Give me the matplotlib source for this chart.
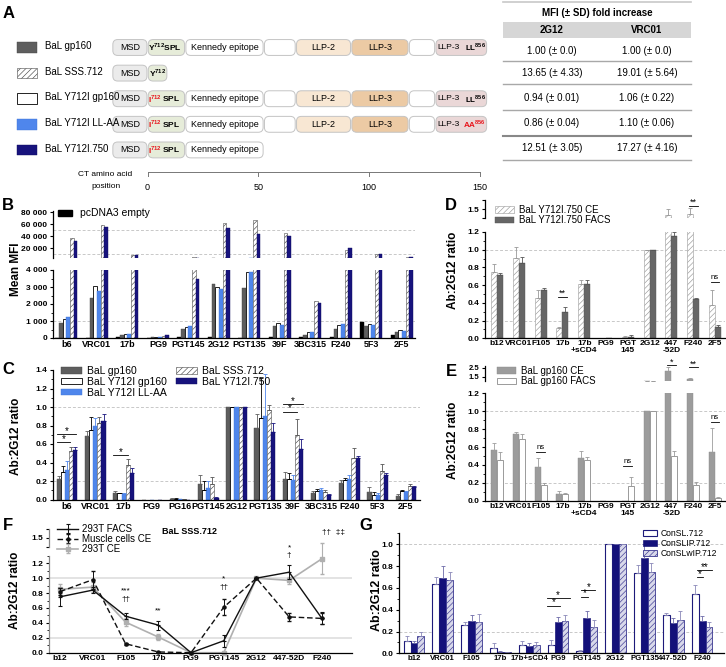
import numpy as np
import matplotlib
matplotlib.use('Agg')
import matplotlib.pyplot as plt
from matplotlib.patches import FancyBboxPatch, Rectangle
from matplotlib.lines import Line2D

plt.rcParams['font.family'] = ['Liberation Sans', 'DejaVu Sans']
plt.rcParams['mathtext.fontset'] = 'custom'
plt.rcParams['mathtext.rm'] = 'Liberation Sans'
plt.rcParams['mathtext.bf'] = 'Liberation Sans:bold'
plt.rcParams['hatch.linewidth'] = 0.45
plt.rcParams['axes.linewidth'] = 0.9

# ---------------- DATA ----------------
# Panel A
constructs = ['BaL gp160', 'BaL SSS.712', 'BaL Y712I gp160', 'BaL Y712I LL-AA', 'BaL Y712I.750']
fold_2g12_mean = [1.00, 13.65, 0.94, 0.86, 12.51]
fold_2g12_sd = [0.0, 4.33, 0.01, 0.04, 3.05]
fold_vrc01_mean = [1.00, 19.01, 1.06, 1.10, 17.27]
fold_vrc01_sd = [0.0, 5.64, 0.22, 0.06, 4.16]
ct_ticks = [0, 50, 100, 150]

# Panel B
b_antibodies = ['b6', 'VRC01', '17b', 'PG9', 'PGT145', '2G12', 'PGT135', '39F', '3BC315', 'F240', '5F3', '2F5']
b_empty = [10, 20, 50, 20, 30, 30, 20, 30, 50, 80, 930, 200]
b_gp160 = [900, 2380, 150, 50, 540, 3200, 2920, 700, 200, 550, 680, 380]
b_y712i = [1120, 3030, 220, 50, 620, 2980, 3900, 900, 350, 780, 820, 450]
b_llaa = [1230, 2750, 220, 60, 690, 2870, 3860, 770, 350, 840, 790, 430]
b_sss = [37000, 58000, 9500, 100, 5500, 62000, 67000, 45000, 2150, 17000, 10000, 5500]
b_750 = [32000, 55000, 9500, 150, 3450, 53000, 44000, 40000, 2050, 21000, 11000, 5500]

# Panel C
c_antibodies = ['b6', 'VRC01', '17b', 'PG9', 'PG16', 'PGT145', '2G12', 'PGT135', '39F', '3BC315', 'F240', '5F3', '2F5']
c_gp160 = [0.22, 0.69, 0.07, 0.0, 0.005, 0.17, 1.0, 0.77, 0.22, 0.07, 0.18, 0.08, 0.04]
c_gp160_err = [0.03, 0.05, 0.02, 0.0, 0.01, 0.09, 0.0, 0.15, 0.08, 0.02, 0.03, 0.05, 0.02]
c_y712i = [0.30, 0.75, 0.065, 0.0, 0.005, 0.10, 1.0, 0.885, 0.22, 0.09, 0.21, 0.05, 0.09]
c_y712i_err = [0.06, 0.14, 0.01, 0.0, 0.01, 0.10, 0.0, 0.43, 0.07, 0.02, 0.02, 0.03, 0.01]
c_llaa = [0.32, 0.80, 0.06, 0.0, 0.005, 0.12, 1.0, 0.90, 0.21, 0.10, 0.22, 0.045, 0.08]
c_llaa_err = [0.10, 0.08, 0.01, 0.0, 0.005, 0.08, 0.0, 0.46, 0.05, 0.02, 0.05, 0.03, 0.01]
c_sss = [0.52, 0.83, 0.37, 0.0, 0.005, 0.165, 1.0, 0.97, 0.70, 0.08, 0.45, 0.31, 0.15]
c_sss_err = [0.05, 0.06, 0.07, 0.0, 0.005, 0.08, 0.0, 0.05, 0.17, 0.02, 0.11, 0.07, 0.02]
c_750 = [0.54, 0.85, 0.29, 0.0, 0.0, 0.015, 1.0, 0.73, 0.55, 0.05, 0.45, 0.26, 0.13]
c_750_err = [0.03, 0.07, 0.05, 0.0, 0.0, 0.01, 0.0, 0.10, 0.10, 0.01, 0.02, 0.03, 0.02]

# Panels D / E
de_antibodies = ['b12', 'VRC01', 'F105', '17b', '17b\n+sCD4', 'PG9', 'PGT\n145', '2G12', '447\n-52D', 'F240', '2F5']
d_ce = [0.75, 0.91, 0.46, 0.12, 0.61, 0.0, 0.01, 1.0, 1.43, 1.45, 0.38]
d_ce_err = [0.09, 0.12, 0.09, 0.01, 0.05, 0.0, 0.02, 0.0, 0.07, 0.06, 0.16]
d_facs = [0.72, 0.85, 0.55, 0.30, 0.61, 0.0, 0.02, 1.0, 1.15, 0.44, 0.13]
d_facs_err = [0.02, 0.07, 0.02, 0.05, 0.05, 0.0, 0.02, 0.0, 0.05, 0.02, 0.02]
e_ce = [0.57, 0.74, 0.38, 0.08, 0.48, 0.0, 0.0, 1.0, 2.1, 1.25, 0.54]
e_ce_err = [0.07, 0.03, 0.10, 0.03, 0.08, 0.0, 0.0, 0.0, 0.45, 0.05, 0.27]
e_facs = [0.45, 0.69, 0.18, 0.07, 0.45, 0.0, 0.16, 1.0, 0.50, 0.18, 0.03]
e_facs_err = [0.09, 0.05, 0.02, 0.02, 0.04, 0.0, 0.10, 0.0, 0.06, 0.03, 0.01]

# Panel F
f_antibodies = ['b12', 'VRC01', 'F105', '17b', 'PG9', 'PGT145', '2G12', '447-52D', 'F240']
f_facs = [0.75, 0.84, 0.49, 0.37, 0.0, 0.16, 1.0, 1.08, 0.46]
f_facs_err = [0.12, 0.04, 0.04, 0.06, 0.0, 0.08, 0.0, 0.09, 0.08]
f_muscle = [0.82, 0.98, 0.12, 0.01, 0.0, 0.61, 1.0, 0.48, 0.46]
f_muscle_err = [0.05, 0.12, 0.01, 0.0, 0.0, 0.11, 0.0, 0.05, 0.07]
f_ce = [0.85, 0.88, 0.41, 0.21, 0.0, 0.0, 1.0, 0.97, 1.26]
f_ce_err = [0.07, 0.07, 0.05, 0.04, 0.0, 0.0, 0.0, 0.05, 0.21]

# Panel G
g_antibodies = ['b12', 'VRC01', 'F105', '17b', '17b+sCD4', 'PG9', 'PGT145', '2G12', 'PGT135', '447-52D', 'F240']
g_consl = [0.11, 0.64, 0.26, 0.05, 0.08, 0.08, 0.02, 1.0, 0.74, 0.35, 0.545]
g_consl_err = [0.05, 0.06, 0.03, 0.04, 0.03, 0.04, 0.01, 0.0, 0.07, 0.02, 0.08]
g_conslip = [0.09, 0.69, 0.30, 0.015, 0.07, 0.29, 0.32, 1.0, 0.875, 0.28, 0.30]
g_conslip_err = [0.02, 0.11, 0.05, 0.01, 0.02, 0.04, 0.07, 0.0, 0.13, 0.04, 0.04]
g_conslwip = [0.155, 0.67, 0.29, 0.01, 0.08, 0.30, 0.245, 1.0, 0.75, 0.31, 0.245]
g_conslwip_err = [0.04, 0.08, 0.07, 0.005, 0.02, 0.05, 0.06, 0.0, 0.08, 0.08, 0.04]

# ---------------- FIGURE ----------------
W, H = 726, 667
fig = plt.figure(figsize=(W / 100, H / 100), dpi=100)


def axpx(l, t, r, b):
    return fig.add_axes([l / W, 1 - b / H, (r - l) / W, (b - t) / H])


def ftext(x, y, s, **kw):
    kw.setdefault('ha', 'center')
    kw.setdefault('va', 'center')
    return fig.text(x / W, 1 - y / H, s, **kw)


def fline(x0, y0, x1, y1, **kw):
    fig.add_artist(Line2D([x0 / W, x1 / W], [1 - y0 / H, 1 - y1 / H], transform=fig.transFigure, **kw))


GRID = dict(color='#c8c8c8', lw=0.7, ls=(0, (3, 2)), zorder=0)


def base_style(ax, labelsize=6):
    for s in ('top', 'right'):
        ax.spines[s].set_visible(False)
    ax.tick_params(labelsize=labelsize, length=2.5, width=0.8, pad=1.5)
    ax.tick_params(axis='x', length=0)
    ax.patch.set_alpha(0)


def yticks_bold(ax, vals, labels, fs=6):
    ax.set_yticks(vals, labels, fontsize=fs, fontweight='bold')


def bars(ax, x, series, styles, errs, width, errcolors):
    n = len(series)
    for k in range(n):
        xs = x + (k - (n - 1) / 2) * width
        ax.bar(xs, series[k], width, **styles[k])
        if errs is not None and errs[k] is not None:
            e = np.asarray(errs[k])
            ax.errorbar(xs, series[k], yerr=[np.zeros_like(e), e], fmt='none',
                        ecolor=errcolors[k], elinewidth=0.6, capsize=1.3, capthick=0.6)


def sig(ax, x0, x1, y, s, dy, fs=7, clip=False):
    ax.plot([x0, x1], [y, y], color='k', lw=0.6, clip_on=clip)
    ax.text((x0 + x1) / 2, y + dy, s, ha='center', va='center', fontsize=fs, clip_on=clip)


# Bar styles
S_black = dict(color='black', edgecolor='black', lw=0.3)
S_gray = dict(color='#5e5e5e', edgecolor='#454545', lw=0.3)
S_white = dict(color='white', edgecolor='black', lw=0.6)
S_blue = dict(color='#4f86ec', edgecolor='#3f74d8', lw=0.3)
S_hatch = dict(color='white', edgecolor='#4a4a4a', hatch='//////', lw=0.4)
S_navy = dict(color='#17137d', edgecolor='#0e0b5e', lw=0.3)

# ================= PANEL A =================
axA = axpx(0, 35, 503, 195)
axA.set_xlim(-66.7, 160.6)
axA.set_ylim(5.76, -0.488)
axA.axis('off')
row_px = 25.6
asp = (1 / row_px) / (1 / 2.213)
bh = 0.62

dom_full = [(-16, 0, '#ebebeb'), (0, 17, '#e6ecd9'), (17, 52.5, 'white'), (52.5, 67, 'white'),
            (67, 92, '#f8e7d3'), (92, 118, '#eccaa4'), (118, 130, 'white'), (130, 153.5, '#ead7d7')]
dom_sss = [(-16, 0, '#ebebeb'), (0, 9, '#e6ecd9')]
dom_750 = dom_full[:3]
row_domains = [dom_full, dom_sss, dom_full, dom_full, dom_750]


def box(ax, x0, x1, y, color):
    p = FancyBboxPatch((x0 + 0.3, y - bh / 2), x1 - x0 - 0.6, bh,
                       boxstyle='round,pad=0,rounding_size=2.2', mutation_aspect=asp,
                       fc=color, ec='#c4c4c4', lw=0.7)
    ax.add_patch(p)


for r, doms in enumerate(row_domains):
    for (x0, x1, c) in doms:
        box(axA, x0, x1, r, c)
    axA.text(-8, r, 'MSD', ha='center', va='center', fontsize=6.5)
    if r == 1:
        axA.text(4.5, r, r'$\mathbf{Y}^{\mathbf{712}}$', ha='center', va='center', fontsize=6)
        continue
    if r == 0:
        axA.text(8.0, r, r'$\mathbf{Y}^{\mathbf{712}}\mathbf{SPL}$', ha='center', va='center', fontsize=6)
    else:
        axA.text(6.4, r, r'$\mathbf{I}^{\mathbf{712}}$', ha='right', va='center', fontsize=6, color='#e8141b')
        axA.text(6.6, r, r'$\mathbf{SPL}$', ha='left', va='center', fontsize=6)
    axA.text(34.8, r, 'Kennedy epitope', ha='center', va='center', fontsize=6.5)
    if r == 4:
        continue
    axA.text(79.5, r, 'LLP-2', ha='center', va='center', fontsize=6.5)
    axA.text(105, r, 'LLP-3', ha='center', va='center', fontsize=6.5)
    axA.text(131.0, r, 'LLP-3', ha='left', va='center', fontsize=6)
    if r == 3:
        axA.text(153, r, r'$\mathbf{AA}^{\mathbf{856}}$', ha='right', va='center', fontsize=5.8, color='#e8141b')
    else:
        axA.text(153, r, r'$\mathbf{LL}^{\mathbf{856}}$', ha='right', va='center', fontsize=5.8)

# legend swatches
sw_styles = [S_gray, S_hatch, S_white, S_blue, S_navy]
for r, (name, st) in enumerate(zip(constructs, sw_styles)):
    st2 = dict(st)
    fcol = st2.pop('color')
    axA.add_patch(Rectangle((-59, r - 0.21), 9, 0.42, facecolor=fcol, **st2))
    axA.text(-46.5, r - 0.05, name, ha='left', va='center', fontsize=7)

# ruler
ry = 4.86
axA.plot([0, 150], [ry, ry], color='#777777', lw=0.7)
for t in ct_ticks:
    axA.plot([t, t], [ry, ry + 0.17], color='#777777', lw=0.7)
    axA.text(t, ry + 0.6, str(t), ha='center', va='center', fontsize=6.5)
axA.text(-19, ry + 0.1, 'CT amino acid', ha='center', va='center', fontsize=6)
axA.text(-19, ry + 0.58, 'position', ha='center', va='center', fontsize=6)

# Table
tx0, tx1 = 503, 691
fline(tx0, 2, tx1, 2, color='#c8c8c8', lw=1.2)
fig.add_artist(Rectangle((tx0 / W, 1 - 37.7 / H), (tx1 - tx0) / W, 16 / H,
                         transform=fig.transFigure, color='#d6d6d6', lw=0))
ftext(597, 12.5, 'MFI (± SD) fold increase', fontsize=7, fontweight='bold')
ftext(552, 30, '2G12', fontsize=7, fontweight='bold')
ftext(647, 30, 'VRC01', fontsize=7, fontweight='bold')
row_y = [50.7, 73, 97.7, 123.3, 148]
sep_y = [61, 84, 109.5, 135.5, 160]


def fmt(m, s):
    return f'{m:.2f} (± {s:.1f})' if s == 0 else f'{m:.2f} (± {s:.2f})'


for i in range(5):
    ftext(552, row_y[i], fmt(fold_2g12_mean[i], fold_2g12_sd[i]), fontsize=7)
    ftext(647, row_y[i], fmt(fold_vrc01_mean[i], fold_vrc01_sd[i]), fontsize=7)
    fline(tx0, sep_y[i], tx1, sep_y[i], color='#a8a8a8' if i != 3 else '#888888', lw=1.0 if i != 3 else 1.5)

# ================= PANEL B =================
bx = np.arange(len(b_antibodies))
axBt = axpx(53, 211, 415, 258)
axBb = axpx(53, 270, 415, 338)
series_B = [b_empty, b_gp160, b_y712i, b_llaa, b_sss, b_750]
styles_B = [S_black, S_gray, S_white, S_blue, S_hatch, S_navy]
for ax in (axBt, axBb):
    base_style(ax)
    bars(ax, bx, series_B, styles_B, None, 0.12, None)
    ax.set_xlim(-0.44, 11.43)
axBt.set_ylim(4000, 82000)
axBb.set_ylim(0, 4000)
axBt.spines['bottom'].set_visible(False)
axBt.tick_params(axis='x', labelbottom=False)
yticks_bold(axBt, [20000, 40000, 60000, 80000], ['20 000', '40 000', '60 000', '80 000'])
yticks_bold(axBb, [0, 1000, 2000, 3000, 4000], ['0', '1 000', '2 000', '3 000', '4 000'])
axBb.set_yticks(np.arange(0, 4001, 500), minor=True)
axBb.tick_params(axis='y', which='minor', length=1.5, width=0.6)
axBt.axhline(50000, **GRID)
axBt.axhline(10000, **GRID)
axBb.axhline(1000, **GRID)
axBb.set_xticks(bx, b_antibodies, fontsize=6.5, fontweight='bold')
ftext(16, 269, 'Mean MFI', fontsize=8.5, fontweight='bold', rotation=90)
fig.add_artist(Rectangle((58 / W, 1 - 216 / H), 14 / W, 6 / H, transform=fig.transFigure, color='black'))
ftext(80, 213, 'pcDNA3 empty', fontsize=7.5, ha='left')

# ================= PANEL C =================
cx = np.arange(len(c_antibodies))
axC = axpx(53, 370, 420, 499.5)
base_style(axC)
series_C = [c_gp160, c_y712i, c_llaa, c_sss, c_750]
errs_C = [c_gp160_err, c_y712i_err, c_llaa_err, c_sss_err, c_750_err]
styles_C = [S_gray, S_white, S_blue, S_hatch, S_navy]
ecol_C = ['#5e5e5e', 'black', '#4f86ec', '#555555', '#17137d']
bars(axC, cx, series_C, styles_C, errs_C, 0.145, ecol_C)
axC.set_xlim(-0.5, 12.5)
axC.set_ylim(0, 1.4)
axC.axhline(1.0, **GRID)
axC.axhline(0.2, **GRID)
yt = np.round(np.arange(0, 1.41, 0.2), 1)
yticks_bold(axC, yt, [f'{v:.1f}' for v in yt])
axC.set_yticks(np.arange(0, 1.41, 0.1), minor=True)
axC.tick_params(axis='y', which='minor', length=1.5, width=0.6)
axC.set_xticks(cx, c_antibodies, fontsize=6.5, fontweight='bold')
ftext(16, 436, 'Ab:2G12 ratio', fontsize=8.5, fontweight='bold', rotation=90)
sig(axC, -0.36, 0.32, 0.71, '*', 0.035)
sig(axC, -0.36, 0.11, 0.62, '*', 0.035)
sig(axC, 2 - 0.37, 2 + 0.16, 0.48, '*', 0.035)
sig(axC, 8 - 0.35, 8 + 0.35, 1.03, '*', 0.035)
sig(axC, 8 - 0.35, 8 + 0.14, 0.95, '*', 0.035)
labels_C = ['BaL gp160', 'BaL Y712I gp160', 'BaL Y712I LL-AA', 'BaL SSS.712', 'BaL Y712I.750']
hC = [Rectangle((0, 0), 1, 1, facecolor=s['color'], edgecolor=s['edgecolor'], hatch=s.get('hatch'), lw=s['lw'])
      for s in styles_C]
fig.legend(hC, labels_C, loc='upper left', bbox_to_anchor=(61 / W, 1 - 366 / H), ncol=2, fontsize=7.5,
           frameon=False, handlelength=2.0, handleheight=0.6, handletextpad=0.5, labelspacing=0.08,
           columnspacing=0.9, borderpad=0, borderaxespad=0)

# ================= PANEL D =================
dx = np.arange(len(de_antibodies))
S_dce = dict(color='white', edgecolor='#9a9a9a', hatch='//////', lw=0.4)
S_dfacs = dict(color='#666666', edgecolor='#555555', lw=0.3)
axDt = axpx(485, 200, 725, 218)
axDb = axpx(485, 232, 725, 338.3)
for ax in (axDt, axDb):
    base_style(ax)
    bars(ax, dx, [d_ce, d_facs], [S_dce, S_dfacs], [d_ce_err, d_facs_err], 0.275, ['#999999', '#555555'])
    ax.set_xlim(-0.55, 10.46)
axDt.set_ylim(1.4, 1.6)
axDb.set_ylim(0, 1.2)
axDt.spines['bottom'].set_visible(False)
axDt.tick_params(axis='x', labelbottom=False)
yticks_bold(axDt, [1.4, 1.5, 1.6], ['', '1.5', ''])
yt = np.round(np.arange(0, 1.21, 0.2), 1)
yticks_bold(axDb, yt, [f'{v:.1f}' for v in yt])
axDb.set_yticks(np.arange(0, 1.21, 0.1), minor=True)
axDb.tick_params(axis='y', which='minor', length=1.5, width=0.6)
axDb.axhline(1.0, **GRID)
axDb.axhline(0.2, **GRID)
axDb.set_xticks(dx, de_antibodies, fontsize=6, fontweight='bold', linespacing=1.0)
ftext(453, 270, 'Ab:2G12 ratio', fontsize=8.5, fontweight='bold', rotation=90)
sig(axDb, 3 - 0.2, 3 + 0.2, 0.47, '**', 0.04, fs=6.5)
sig(axDb, 10 - 0.2, 10 + 0.2, 0.64, 'ns', 0.05, fs=5.5)
sig(axDt, 9 - 0.2, 9 + 0.2, 1.53, '**', 0.04, fs=6.5)
hD = [Rectangle((0, 0), 1, 1, facecolor='white', edgecolor='#9a9a9a', hatch='//////', lw=0.4),
      Rectangle((0, 0), 1, 1, facecolor='#666666', edgecolor='#555555', lw=0.3)]
fig.legend(hD, ['BaL Y712I.750 CE', 'BaL Y712I.750 FACS'], loc='upper left',
           bbox_to_anchor=(495 / W, 1 - 205 / H), fontsize=7, frameon=False, handlelength=2.0,
           handleheight=0.6, handletextpad=0.5, labelspacing=0.05, borderpad=0, borderaxespad=0)

# ================= PANEL E =================
S_ece = dict(color='#9c9c9c', edgecolor='#8a8a8a', lw=0.3)
S_efacs = dict(color='white', edgecolor='#9a9a9a', lw=0.7)
axEt = axpx(485, 366, 725, 381)
axEb = axpx(485, 393.3, 725, 500.7)
for ax in (axEt, axEb):
    base_style(ax)
    bars(ax, dx, [e_ce, e_facs], [S_ece, S_efacs], [e_ce_err, e_facs_err], 0.275, ['#9c9c9c', '#9a9a9a'])
    ax.set_xlim(-0.55, 10.46)
axEt.set_ylim(1.0, 2.7)
axEb.set_ylim(0, 1.2)
axEt.spines['bottom'].set_visible(False)
axEt.tick_params(axis='x', labelbottom=False)
yticks_bold(axEt, [1.5, 2.5], ['1.5', '2.5'], fs=5.5)
yticks_bold(axEb, yt, [f'{v:.1f}' for v in yt])
axEb.set_yticks(np.arange(0, 1.21, 0.1), minor=True)
axEb.tick_params(axis='y', which='minor', length=1.5, width=0.6)
axEb.axhline(1.0, **GRID)
axEb.axhline(0.2, **GRID)
axEb.set_xticks(dx, de_antibodies, fontsize=6, fontweight='bold', linespacing=1.0)
ftext(453, 440, 'Ab:2G12 ratio', fontsize=8.5, fontweight='bold', rotation=90)
sig(axEb, 2 - 0.2, 2 + 0.2, 0.54, 'ns', 0.05, fs=5.5)
sig(axEb, 6 - 0.2, 6 + 0.2, 0.39, 'ns', 0.05, fs=5.5)
sig(axEb, 10 - 0.2, 10 + 0.2, 0.88, 'ns', 0.05, fs=5.5)
sig(axEt, 8 - 0.2, 8 + 0.2, 2.8, '*', 0.3, fs=6.5)
sig(axEt, 9 - 0.2, 9 + 0.2, 2.55, '**', 0.4, fs=6.5)
hE = [Rectangle((0, 0), 1, 1, facecolor='#9c9c9c', edgecolor='#8a8a8a', lw=0.3),
      Rectangle((0, 0), 1, 1, facecolor='white', edgecolor='#9a9a9a', lw=0.7)]
fig.legend(hE, ['BaL gp160 CE', 'BaL gp160 FACS'], loc='upper left',
           bbox_to_anchor=(497 / W, 1 - 366 / H), fontsize=7, frameon=False, handlelength=2.0,
           handleheight=0.6, handletextpad=0.5, labelspacing=0.05, borderpad=0, borderaxespad=0)

# ================= PANEL F =================
fx = np.arange(len(f_antibodies))
axFt = axpx(49, 529, 352, 546.7)
axFb = axpx(49, 555.8, 352, 652.7)
for ax in (axFt, axFb):
    base_style(ax)
    ax.set_xlim(-0.34, 8.92)
axFt.set_ylim(1.4, 1.6)
axFb.set_ylim(0, 1.3)
axFt.spines['bottom'].set_visible(False)
axFt.tick_params(axis='x', labelbottom=False)
yticks_bold(axFt, [1.4, 1.5, 1.6], ['', '1.5', ''])
yt = np.round(np.arange(0, 1.21, 0.2), 1)
yticks_bold(axFb, yt, [f'{v:.1f}' for v in yt])
axFb.set_yticks(np.arange(0, 1.31, 0.1), minor=True)
axFb.tick_params(axis='y', which='minor', length=1.5, width=0.6)
for ax in (axFt, axFb):
    ax.spines['left'].set_color('#888888')
axFb.axhline(1.0, color='#e0e0e0', lw=1.3, zorder=0)
axFb.axhline(0.2, color='#e0e0e0', lw=1.3, zorder=0)
lF1 = axFb.errorbar(fx, f_facs, yerr=f_facs_err, color='#111111', lw=1.0, marker='+', ms=3.5, mew=0.8,
                    elinewidth=0.7, capsize=1.5, clip_on=False, label='293T FACS', zorder=4)
lF2 = axFb.errorbar(fx, f_muscle, yerr=f_muscle_err, color='#111111', lw=1.0, ls=(0, (4, 2)), marker='o', ms=2.2,
                    elinewidth=0.7, capsize=1.5, clip_on=False, label='Muscle cells CE', zorder=3)
lF3 = axFb.errorbar(fx, f_ce, yerr=f_ce_err, color='#b0b0b0', lw=1.2, marker='s', ms=3, elinewidth=0.8,
                    capsize=1.5, clip_on=False, label='293T CE', zorder=2)
axFb.set_xticks(fx, f_antibodies, fontsize=6, fontweight='bold')
ftext(15, 590, 'Ab:2G12 ratio', fontsize=8.5, fontweight='bold', rotation=90)
ftext(189, 531, 'BaL SSS.712', fontsize=6.5, fontweight='bold')
annF = [(2, 0.83, '***'), (2, 0.72, '††'), (3, 0.56, '**'), (5, 0.99, '*'), (5, 0.87, '††'),
        (7, 1.41, '*'), (7, 1.30, '†'), (8.35, 1.61, '††  ‡‡')]
for x, y, s in annF:
    axFb.text(x, y, s, ha='center', va='center', fontsize=6, clip_on=False)
fig.legend(handles=[lF1, lF2, lF3], loc='upper left', bbox_to_anchor=(57 / W, 1 - 524 / H), fontsize=7,
           frameon=False, handlelength=2.2, handletextpad=0.4, labelspacing=0.0, borderpad=0, borderaxespad=0)

# ================= PANEL G =================
gx = np.arange(len(g_antibodies))
axG = axpx(399, 533.4, 724, 653.3)
base_style(axG)
NAV = '#1d1a7a'
S_g1 = dict(color='white', edgecolor=NAV, lw=0.8)
S_g2 = dict(color='#14117a', edgecolor=NAV, lw=0.5)
S_g3 = dict(color='#d8d8ea', edgecolor='#3a3790', hatch='//////', lw=0.6)
bars(axG, gx, [g_consl, g_conslip, g_conslwip], [S_g1, S_g2, S_g3],
     [g_consl_err, g_conslip_err, g_conslwip_err], 0.24, ['#8a88b8', '#6d6aa8', '#8a88b8'])
axG.set_xlim(-0.52, 10.76)
axG.set_ylim(0, 1.1)
axG.axhline(1.0, **GRID)
axG.axhline(0.2, **GRID)
yt = np.round(np.arange(0, 1.01, 0.2), 1)
yticks_bold(axG, yt, [f'{v:.1f}' for v in yt])
axG.set_yticks(np.arange(0, 1.11, 0.1), minor=True)
axG.tick_params(axis='y', which='minor', length=1.5, width=0.6)
axG.set_xticks(gx, g_antibodies, fontsize=5.6, fontweight='bold')
ftext(377, 590, 'Ab:2G12 ratio', fontsize=9, fontweight='bold', rotation=90)
sig(axG, 5 - 0.4, 5 + 0.4, 0.505, '*', 0.03)
sig(axG, 5 - 0.4, 5 + 0.08, 0.437, '*', 0.03)
sig(axG, 6 - 0.2, 6 + 0.3, 0.58, '*', 0.03)
sig(axG, 6 - 0.2, 6 + 0.03, 0.52, '*', 0.03)
sig(axG, 10 - 0.17, 10 + 0.34, 0.765, '**', 0.03)
sig(axG, 10 - 0.17, 10 + 0.03, 0.70, '*', 0.03)
hG = [Rectangle((0, 0), 1, 1, facecolor=s['color'], edgecolor=s['edgecolor'], hatch=s.get('hatch'), lw=s['lw'])
      for s in (S_g1, S_g2, S_g3)]
fig.legend(hG, ['ConSL.712', 'ConSLIP.712', 'ConSLwIP.712'], loc='upper left',
           bbox_to_anchor=(643 / W, 1 - 529 / H), fontsize=6.2, frameon=False, handlelength=1.6,
           handleheight=0.7, handletextpad=0.4, labelspacing=0.12, borderpad=0, borderaxespad=0)

# Panel letters
for s, x, y in [('A', 9, 13), ('B', 8, 206), ('C', 8, 369), ('D', 451, 206), ('E', 451, 371),
                ('F', 8, 526), ('G', 366, 526)]:
    ftext(x, y, s, fontsize=12, fontweight='bold')

fig.savefig('out.png', dpi=100)
